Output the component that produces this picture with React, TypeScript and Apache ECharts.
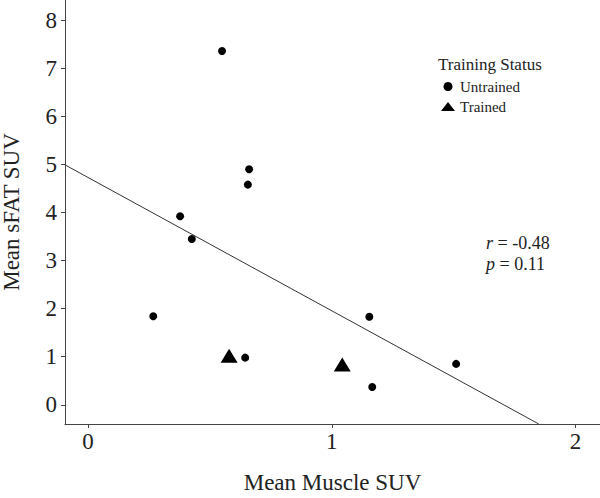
import React, { useEffect, useRef } from "react";
import * as echarts from "echarts";

const untrainedX = [0.55, 0.661, 0.656, 0.378, 0.426, 0.268, 0.645, 1.154, 1.166, 1.51];
const untrainedY = [7.36, 4.9, 4.58, 3.92, 3.45, 1.84, 0.98, 1.83, 0.37, 0.85];
const trainedX = [0.579, 1.043];
const trainedY = [1.02, 0.84];
const fitX = [-0.094, 1.849];
const fitY = [4.99, -0.4];
const xTicks = [0, 1, 2];
const yTicks = [0, 1, 2, 3, 4, 5, 6, 7, 8];
const statR = "-0.48";
const statP = "0.11";

const FONT = "'Liberation Serif', 'Times New Roman', serif";
const TXT = "#222";
const AX = "#444";

export default function App() {
  const ref = useRef<HTMLDivElement>(null);
  useEffect(() => {
    if (!ref.current) return;
    const chart = echarts.init(ref.current, null, { renderer: "svg" });
    const pairs = (xs: number[], ys: number[]) => xs.map((x, i) => [x, ys[i]]);
    chart.setOption({
      animation: false,
      backgroundColor: "#fff",
      textStyle: { fontFamily: FONT },
      grid: { left: 65, right: 0, top: 0, bottom: 74, containLabel: false, outerBoundsMode: "none" },
      xAxis: {
        type: "value",
        min: -0.094,
        max: 2.1,
        name: "Mean Muscle SUV",
        nameLocation: "middle",
        nameGap: 47,
        nameTextStyle: { fontFamily: FONT, fontSize: 23, color: TXT },
        splitLine: { show: false },
        axisLine: { show: true, onZero: false, lineStyle: { color: AX, width: 1 } },
        axisTick: { show: true, length: 4, customValues: xTicks, lineStyle: { color: AX } },
        axisLabel: { customValues: xTicks, margin: 6, fontFamily: FONT, fontSize: 23, color: TXT },
      },
      yAxis: {
        type: "value",
        min: -0.4,
        max: 8.42,
        name: "Mean sFAT SUV",
        nameLocation: "middle",
        nameGap: 42,
        nameTextStyle: { fontFamily: FONT, fontSize: 23, color: TXT },
        splitLine: { show: false },
        axisLine: { show: true, onZero: false, lineStyle: { color: AX, width: 1 } },
        axisTick: { show: true, length: 4, customValues: yTicks, lineStyle: { color: AX } },
        axisLabel: { customValues: yTicks, margin: 8, fontFamily: FONT, fontSize: 23, color: TXT },
      },
      legend: {
        orient: "vertical",
        left: 441,
        top: 79,
        padding: 0,
        itemWidth: 14,
        itemHeight: 9,
        itemGap: 5,
        textStyle: { fontFamily: FONT, fontSize: 15, color: TXT, lineHeight: 15 },
        data: [
          { name: "Untrained", icon: "circle", itemStyle: { color: "#000", opacity: 1 } },
          { name: "Trained", icon: "triangle", itemStyle: { color: "#000", opacity: 1 } },
        ],
      },
      graphic: [
        {
          type: "text",
          left: 438,
          top: 56,
          style: { text: "Training Status", font: `17px ${FONT}`, fill: TXT },
        },
        {
          type: "text",
          left: 486,
          top: 232,
          style: {
            text: `{i|r} = ${statR}\n{i|p} = ${statP}`,
            font: `18px ${FONT}`,
            fill: TXT,
            lineHeight: 21,
            rich: { i: { fontStyle: "italic", fontFamily: FONT, fontSize: 18, fill: TXT } },
          },
        },
      ],
      series: [
        {
          name: "Fit",
          type: "line",
          data: pairs(fitX, fitY),
          symbol: "none",
          lineStyle: { color: "#333", width: 1 },
          silent: true,
        },
        {
          name: "Untrained",
          type: "scatter",
          data: pairs(untrainedX, untrainedY),
          symbol: "circle",
          symbolSize: 8,
          itemStyle: { color: "#000", opacity: 1 },
        },
        {
          name: "Trained",
          type: "scatter",
          data: pairs(trainedX, trainedY),
          symbol: "triangle",
          symbolSize: [17, 14],
          itemStyle: { color: "#000", opacity: 1 },
        },
      ],
    });
    return () => chart.dispose();
  }, []);
  return <div ref={ref} style={{ width: 600, height: 498, position: "absolute", left: 0, top: 0 }} />;
}
